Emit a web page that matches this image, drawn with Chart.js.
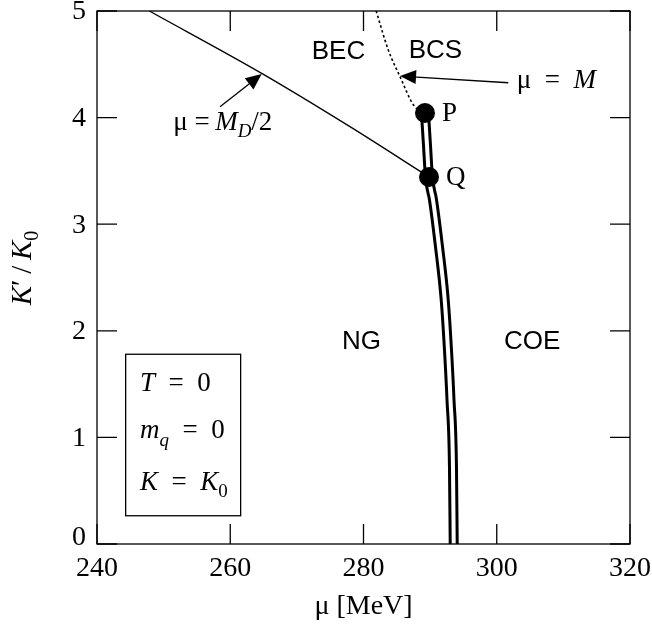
<!DOCTYPE html>
<html>
<head>
<meta charset="utf-8">
<script src="https://cdn.jsdelivr.net/npm/chart.js@4"></script>
<style>
html, body { margin: 0; padding: 0; background: #fff; }
#wrap { width: 652px; height: 632px; }
</style>
</head>
<body>
<div id="wrap"><canvas id="phase"></canvas></div>
<script>
var muTicks = [240, 260, 280, 300, 320];
var kTicks = [0, 1, 2, 3, 4, 5];

// first order boundary (double line) from P down to K'=0
var boundaryMu = [289.23, 289.53, 289.83, 290.43, 291.33, 292.19, 292.68, 293.06, 293.43, 293.54];
var boundaryK = [4.04, 3.74, 3.44, 3.23, 2.79, 2.29, 1.82, 1.35, 0.72, 0];

// mu = M_D / 2 line
var halfDiquarkMu = [247.85, 264.72, 277.97, 289.83];
var halfDiquarkK = [5.0, 4.415, 3.915, 3.443];

// mu = M (BEC/BCS crossover, dotted)
var quarkMassMu = [281.9, 283.72, 285.48, 287.6, 289.23];
var quarkMassK = [5.0, 4.634, 4.384, 4.11, 4.043];

var pointMu = [289.23, 289.83];
var pointK = [4.043, 3.443];
var pointNames = ['P', 'Q'];

var SERIF = '"Liberation Serif", "DejaVu Serif", serif';
var SANS = '"Liberation Sans", Arial, sans-serif';

function toXY(mu, k) {
    return mu.map(function (m, i) { return { x: m, y: k[i] }; });
}

function drawRuns(ctx, x, y, parts, align) {
    var w = 0;
    parts.forEach(function (p) { ctx.font = p[1]; w += ctx.measureText(p[0]).width; });
    var cx = align === 'center' ? x - w / 2 : (align === 'right' ? x - w : x);
    parts.forEach(function (p) {
        ctx.font = p[1];
        ctx.fillText(p[0], cx, y + (p[2] || 0));
        cx += ctx.measureText(p[0]).width;
    });
}

function arrow(ctx, x0, y0, x1, y1) {
    var ang = Math.atan2(y1 - y0, x1 - x0), len = 16, half = 7;
    ctx.beginPath();
    ctx.moveTo(x0, y0);
    ctx.lineTo(x1 - Math.cos(ang) * len * 0.8, y1 - Math.sin(ang) * len * 0.8);
    ctx.stroke();
    ctx.beginPath();
    ctx.moveTo(x1, y1);
    ctx.lineTo(x1 - Math.cos(ang) * len + Math.sin(ang) * half, y1 - Math.sin(ang) * len - Math.cos(ang) * half);
    ctx.lineTo(x1 - Math.cos(ang) * len - Math.sin(ang) * half, y1 - Math.sin(ang) * len + Math.cos(ang) * half);
    ctx.closePath();
    ctx.fill();
}

var rm = '27px ' + SERIF, it = 'italic 27px ' + SERIF, sub = 'italic 19px ' + SERIF, subUp = '19px ' + SERIF;
var EN = '\u2002';

var decor = {
    id: 'decor',
    afterDraw: function (chart) {
        var ctx = chart.ctx, a = chart.chartArea, xs = chart.scales.x, ys = chart.scales.y;
        var px = function (v) { return xs.getPixelForValue(v); };
        var py = function (v) { return ys.getPixelForValue(v); };
        ctx.save();
        ctx.strokeStyle = '#000';
        ctx.fillStyle = '#000';
        ctx.lineWidth = 1.3;
        ctx.strokeRect(a.left, a.top, a.right - a.left, a.bottom - a.top);

        // inward ticks on all four sides
        var tl = 20;
        ctx.beginPath();
        muTicks.forEach(function (v) {
            var x = px(v);
            ctx.moveTo(x, a.bottom); ctx.lineTo(x, a.bottom - tl);
            ctx.moveTo(x, a.top); ctx.lineTo(x, a.top + tl);
        });
        kTicks.forEach(function (v) {
            var y = py(v);
            ctx.moveTo(a.left, y); ctx.lineTo(a.left + tl, y);
            ctx.moveTo(a.right, y); ctx.lineTo(a.right - tl, y);
        });
        ctx.stroke();

        // tick labels
        var tf = '28px ' + SERIF;
        ctx.textBaseline = 'alphabetic';
        muTicks.forEach(function (v) {
            drawRuns(ctx, px(v), a.bottom + 32, [[String(v), tf]], 'center');
        });
        ctx.textBaseline = 'middle';
        kTicks.forEach(function (v) {
            drawRuns(ctx, a.left - 11, py(v) + 1 - (v === 0 ? 7 : 0), [[String(v), tf]], 'right');
        });

        // arrows
        ctx.lineWidth = 1.3;
        arrow(ctx, px(301.73), py(4.327), px(285.48), py(4.39));
        arrow(ctx, px(258.46), py(4.102), px(264.72), py(4.409));

        // region labels
        var sf = '26px ' + SANS;
        drawRuns(ctx, px(276.24), py(4.618), [['BEC', sf]], 'center');
        drawRuns(ctx, px(290.8), py(4.625), [['BCS', sf]], 'center');
        drawRuns(ctx, px(279.7), py(1.9), [['NG', sf]], 'center');
        drawRuns(ctx, px(305.3), py(1.9), [['COE', sf]], 'center');

        ctx.textBaseline = 'alphabetic';
        drawRuns(ctx, px(303.0), py(4.275), [['\u03bc' + EN + '=' + EN, rm], ['M', it]]);
        drawRuns(ctx, px(251.45), py(3.884), [['\u03bc =\u2009', rm], ['M', it], ['D', sub, 7], ['/2', rm]]);

        pointNames.forEach(function (n, i) {
            drawRuns(ctx, px(pointMu[i]) + 17, py(pointK[i]) + 8, [[n, rm]]);
        });

        // parameter box
        ctx.lineWidth = 1.3;
        ctx.strokeRect(px(244.3), py(1.78), px(261.56) - px(244.3), py(0.265) - py(1.78));
        drawRuns(ctx, px(246.45), py(1.435), [['T', it], [EN + '=' + EN + '0', rm]]);
        drawRuns(ctx, px(246.45), py(0.992), [['m', it], ['q', sub, 8], [EN + '=' + EN + '0', rm]]);
        drawRuns(ctx, px(246.45), py(0.507), [['K', it], [EN + '=' + EN, rm], ['K', it], ['0', subUp, 7]]);

        // axis titles
        drawRuns(ctx, (a.left + a.right) / 2, 614, [['\u03bc [MeV]', '28px ' + SERIF]], 'center');
        ctx.translate(31, a.top + 257);
        ctx.rotate(-Math.PI / 2);
        drawRuns(ctx, 0, 0, [['K', 'italic 29px ' + SERIF], ['\u2032\u2009/\u2009', '29px ' + SERIF],
            ['K', 'italic 29px ' + SERIF], ['0', '20px ' + SERIF, 7]], 'center');
        ctx.restore();
    }
};

new Chart(document.getElementById('phase'), {
    type: 'scatter',
    data: {
        datasets: [
            {
                data: toXY(pointMu, pointK),
                pointRadius: 10, pointBackgroundColor: '#000', pointBorderWidth: 0,
                showLine: false, order: 0
            },
            {
                data: toXY(boundaryMu, boundaryK),
                borderColor: '#fff', borderWidth: 4, showLine: true, pointRadius: 0,
                cubicInterpolationMode: 'monotone', order: 1
            },
            {
                data: toXY(boundaryMu, boundaryK),
                borderColor: '#000', borderWidth: 10, showLine: true, pointRadius: 0,
                cubicInterpolationMode: 'monotone', order: 2
            },
            {
                data: toXY(halfDiquarkMu, halfDiquarkK),
                borderColor: '#000', borderWidth: 1.3, showLine: true, pointRadius: 0,
                cubicInterpolationMode: 'monotone', order: 3
            },
            {
                data: toXY(quarkMassMu, quarkMassK),
                borderColor: '#000', borderWidth: 1.6, borderDash: [2.5, 2.5],
                showLine: true, pointRadius: 0, cubicInterpolationMode: 'monotone', order: 3
            }
        ]
    },
    options: {
        responsive: true,
        maintainAspectRatio: false,
        animation: false,
        layout: { padding: { top: 11, right: 22, left: 0, bottom: 0 } },
        plugins: { legend: { display: false }, tooltip: { enabled: false } },
        scales: {
            x: {
                type: 'linear', min: 240, max: 320,
                afterFit: function (s) { s.height = 88; },
                grid: { display: false, drawTicks: false },
                border: { display: false },
                ticks: { display: false, stepSize: 20 }
            },
            y: {
                type: 'linear', min: 0, max: 5,
                afterFit: function (s) { s.width = 97; },
                grid: { display: false, drawTicks: false },
                border: { display: false },
                ticks: { display: false, stepSize: 1 }
            }
        }
    },
    plugins: [decor]
});
</script>
</body>
</html>
